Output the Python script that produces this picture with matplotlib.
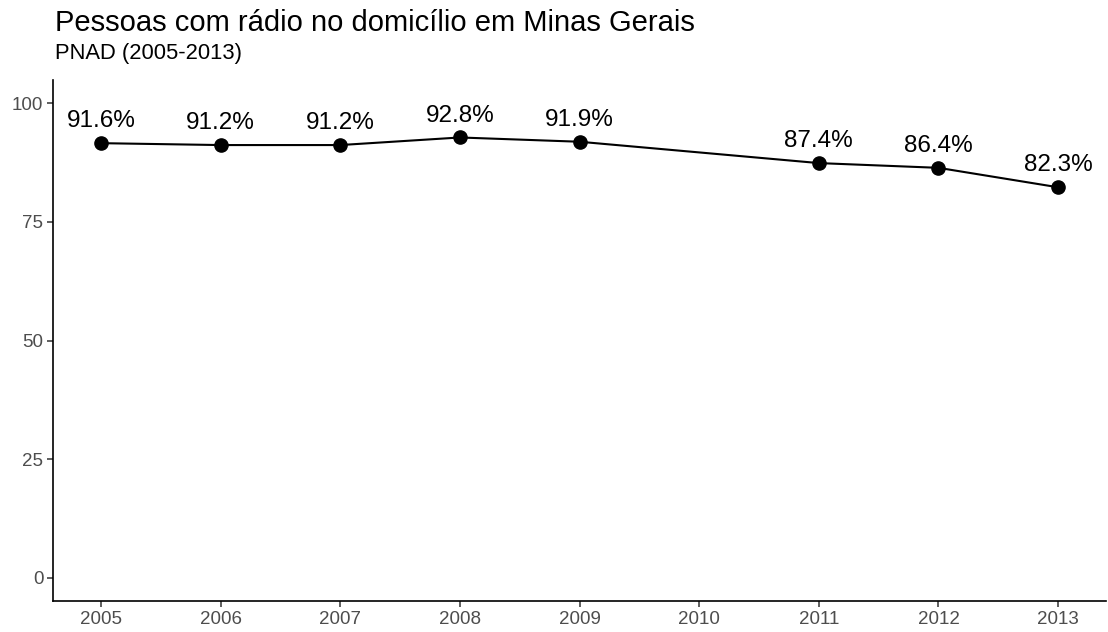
import matplotlib
matplotlib.use("Agg")
import matplotlib.pyplot as plt

years = [2005, 2006, 2007, 2008, 2009, 2011, 2012, 2013]
values = [91.6, 91.2, 91.2, 92.8, 91.9, 87.4, 86.4, 82.3]
xticks = [2005, 2006, 2007, 2008, 2009, 2010, 2011, 2012, 2013]
yticks = [0, 25, 50, 75, 100]
title = "Pessoas com rádio no domicílio em Minas Gerais"
subtitle = "PNAD (2005-2013)"

plt.rcParams['font.family'] = ['Liberation Sans', 'DejaVu Sans']

W, H = 1108, 632
fig = plt.figure(figsize=(W / 100, H / 100), dpi=100)
left, right, top, bottom = 53, 1106, 79.6, 601.4
ax = fig.add_axes([left / W, (H - bottom) / H, (right - left) / W, (bottom - top) / H])

ax.plot(years, values, color='black', lw=1.5, marker='o', markersize=9.5, zorder=3)
for x, v in zip(years, values):
    ax.text(x, v + 4.6, f"{v:.1f}%", ha='center', va='center', fontsize=17.5, color='black')

ax.set_xlim(2005 - 0.4, 2013 + 0.4)
ax.set_ylim(-5, 105)
ax.set_xticks(xticks)
ax.set_xticklabels([str(t) for t in xticks])
ax.set_yticks(yticks)
for s in ['top', 'right']:
    ax.spines[s].set_visible(False)
for s in ['left', 'bottom']:
    ax.spines[s].set_linewidth(1.2)
    ax.spines[s].set_color('black')
ax.tick_params(axis='both', length=4, width=1.1, color='#333333', labelcolor='#4D4D4D', labelsize=13.5, pad=3)

fig.text(55 / W, 1 - 31 / H, title, fontsize=21, color='black', ha='left', va='baseline')
fig.text(55 / W, 1 - 58.5 / H, subtitle, fontsize=15.8, color='black', ha='left', va='baseline')

fig.savefig("out.png", dpi=100)
